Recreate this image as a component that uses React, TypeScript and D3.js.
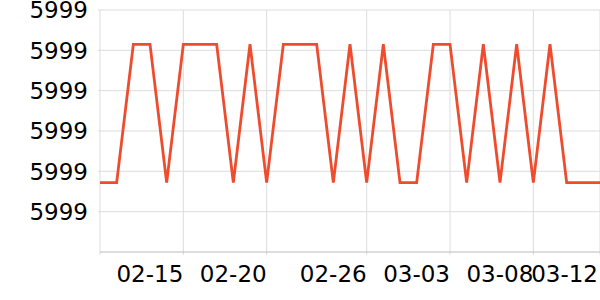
import React from "react";
import * as d3 from "d3";

const dates: string[] = [
  "2023-02-10","2023-02-11","2023-02-12","2023-02-13","2023-02-14","2023-02-15",
  "2023-02-16","2023-02-17","2023-02-18","2023-02-19","2023-02-20","2023-02-21",
  "2023-02-22","2023-02-23","2023-02-24","2023-02-25","2023-02-26","2023-02-27",
  "2023-02-28","2023-03-01","2023-03-02","2023-03-03","2023-03-04","2023-03-05",
  "2023-03-06","2023-03-07","2023-03-08","2023-03-09","2023-03-10","2023-03-11",
  "2023-03-12",
];
const H = 5999.315;
const L = 5998.972;
const prices: number[] = [
  L, L, H, H, L, H, H, H, L, H, L, H, H, H, L, H, L, H, L, L, H, H, L, H, L, H, L, H, L, L, L,
];
const yTicks: number[] = [5998.9, 5999.0, 5999.1, 5999.2, 5999.3, 5999.4];
const xTickLabels: string[] = ["2023-02-15", "2023-02-20", "2023-02-26", "2023-03-03", "2023-03-08", "2023-03-12"];

const W = 600;
const HT = 300;
const margin = { left: 100, right: 0, top: 10, bottom: 48 };

export default function App() {
  const parse = d3.timeParse("%Y-%m-%d");
  const data = dates.map((d, i) => ({ date: parse(d) as Date, v: prices[i] }));
  const x = d3
    .scaleTime()
    .domain(d3.extent(data, (d) => d.date) as [Date, Date])
    .range([margin.left, W - margin.right]);
  const y = d3
    .scaleLinear()
    .domain([5998.8, 5999.4])
    .range([HT - margin.bottom, margin.top]);
  const line = d3
    .line<{ date: Date; v: number }>()
    .x((d) => x(d.date))
    .y((d) => y(d.v));
  const fmtY = d3.format(".0f");
  const fmtX = d3.timeFormat("%m-%d");
  const xTicks = xTickLabels.map((s) => parse(s) as Date);
  const y0 = y.range()[0];
  const font = "'DejaVu Sans', sans-serif";

  return (
    <svg
      width={W}
      height={HT}
      style={{ position: "absolute", left: 0, top: 0 }}
      fontFamily={font}
    >
      {yTicks.map((t) => (
        <line key={"gy" + t} x1={margin.left - 2} x2={W} y1={y(t)} y2={y(t)} stroke="#dddddd" strokeWidth={1} />
      ))}
      {xTicks.map((t, i) => (
        <line key={"gx" + i} x1={x(t)} x2={x(t)} y1={margin.top} y2={y0 + 3} stroke="#dddddd" strokeWidth={1} />
      ))}
      <line x1={margin.left} x2={margin.left} y1={margin.top} y2={y0 + 3} stroke="#dddddd" strokeWidth={1} />
      <line x1={margin.left} x2={W} y1={y0} y2={y0} stroke="#bbbbbb" strokeWidth={1} />
      {yTicks.map((t) => (
        <text key={"ly" + t} x={margin.left - 12} y={y(t)} dy="0.36em" textAnchor="end" fontSize={23} fill="#000">
          {fmtY(t)}
        </text>
      ))}
      {xTicks.map((t, i) => (
        <text key={"lx" + i} x={Math.min(x(t), W - 2)} y={y0 + 30} textAnchor="end" fontSize={23} fill="#000">
          {fmtX(t)}
        </text>
      ))}
      <path d={line(data) || ""} fill="none" stroke="#ef4b2d" strokeWidth={2.8} strokeLinejoin="miter" />
    </svg>
  );
}
